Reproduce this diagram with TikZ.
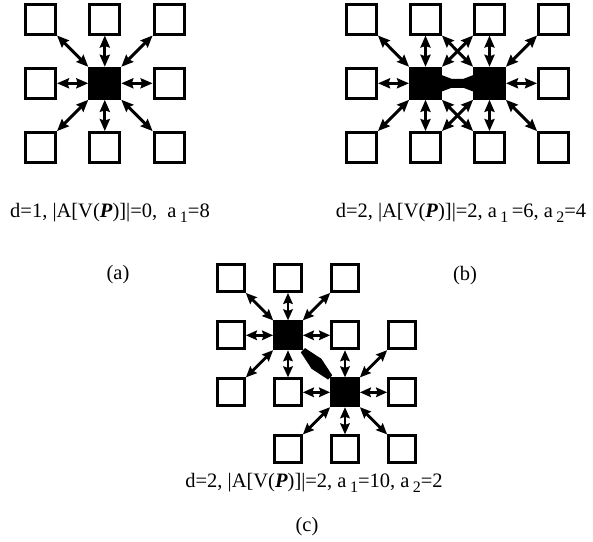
\documentclass[tikz,border=0pt]{standalone}
\usepackage{fontspec}
\setmainfont{Liberation Serif}
\usetikzlibrary{arrows.meta,calc}
\newcommand\lowsub[1]{\,\raisebox{-5pt}{\fontsize{16}{16}\selectfont #1}}
\begin{document}
\begin{tikzpicture}[x=1pt,y=-1pt,
  wbox/.style={draw=black,fill=white,line width=3pt,minimum size=30pt,inner sep=0pt},
  bbox/.style={wbox,fill=black},
  wboxs/.style={wbox,minimum size=27pt,line width=2.8pt},
  bboxs/.style={wboxs,fill=black},
  link/.style={line width=3pt,{Stealth[length=12pt,width=10pt,inset=1.5pt]}-{Stealth[length=12pt,width=10pt,inset=1.5pt]}},
  links/.style={line width=2.8pt,{Stealth[length=11pt,width=9.5pt,inset=1.5pt]}-{Stealth[length=11pt,width=9.5pt,inset=1.5pt]}},
  lbl/.style={font=\fontsize{20.5}{24}\selectfont,anchor=base,inner sep=0pt}
]
\useasboundingbox (0,0) rectangle (593,541);

% ---------- (a) ----------
\foreach \n/\x/\y/\s in {a11/40.5/19/wbox,a21/104.8/19/wbox,a31/169.1/19/wbox,
  a12/40.5/83.3/wbox,a22/104.8/83.3/bbox,a32/169.1/83.3/wbox,
  a13/40.5/147.6/wbox,a23/104.8/147.6/wbox,a33/169.1/147.6/wbox}
  {\node[\s] (\n) at (\x,\y) {};}
\foreach \t in {a11,a21,a31,a12,a32,a13,a23,a33}
  {\draw[link] (a22) -- (\t);}

% ---------- (b) ----------
\foreach \n/\x/\y/\s in {b11/361.5/19/wbox,b21/425.5/19/wbox,b31/489.5/19/wbox,b41/553.5/19/wbox,
  b12/361.5/83.3/wbox,b22/425.5/83.3/bbox,b32/489.5/83.3/bbox,b42/553.5/83.3/wbox,
  b13/361.5/147.6/wbox,b23/425.5/147.6/wbox,b33/489.5/147.6/wbox,b43/553.5/147.6/wbox}
  {\node[\s] (\n) at (\x,\y) {};}
\foreach \t in {b11,b21,b31,b12,b13,b23,b33}
  {\draw[link] (b22) -- (\t);}
\foreach \t in {b21,b31,b41,b42,b23,b33,b43}
  {\draw[link] (b32) -- (\t);}
\coordinate (bm) at ($(b22.east)!0.5!(b32.west)$);
\fill ($(b22.east)+(-1,-8.5)$) -- ($(bm)+(-6,-4.5)$) -- ($(bm)+(6,-4.5)$) -- ($(b32.west)+(1,-8.5)$)
  -- ($(b32.west)+(1,8.5)$) -- ($(bm)+(6,4.5)$) -- ($(bm)+(-6,4.5)$) -- ($(b22.east)+(-1,8.5)$) -- cycle;

% ---------- (c) ----------
\foreach \n/\x/\y/\s in {c11/231/278/wboxs,c21/288/278/wboxs,c31/345/278/wboxs,
  c12/231/335.3/wboxs,c22/288/335.3/bboxs,c32/345/335.3/wboxs,c42/402/335.3/wboxs,
  c13/231/392.3/wboxs,c23/288/392.3/wboxs,c33/345/392.3/bboxs,c43/402/392.3/wboxs,
  c24/288/449.3/wboxs,c34/345/449.3/wboxs,c44/402/449.3/wboxs}
  {\node[\s] (\n) at (\x,\y) {};}
\foreach \t in {c11,c21,c31,c12,c32,c13,c23}
  {\draw[links] (c22) -- (\t);}
\foreach \t in {c32,c42,c23,c43,c24,c34,c44}
  {\draw[links] (c33) -- (\t);}
\coordinate (cp) at (c22.south east);
\coordinate (cq) at (c33.north west);
\fill ($(cp)!3pt!90:(cq)$) -- ($(cp)!0.5!(cq)!7pt!90:(cq)$) -- ($(cq)!3pt!-90:(cp)$)
  -- ($(cq)!3pt!90:(cp)$) -- ($(cp)!0.5!(cq)!7pt!-90:(cq)$) -- ($(cp)!3pt!-90:(cq)$) -- cycle;

% ---------- labels ----------
\node[lbl] (ta) at (110,217) {d=1, |A[V(\textbf{\textit{P}})]|=0, \ a\lowsub{1}=8};
\node[lbl] (tb) at (461,217) {d=2, |A[V(\textbf{\textit{P}})]|=2, a\lowsub{1}\,=6, a\lowsub{2}=4};
\node[lbl] (tc) at (314,487) {d=2, |A[V(\textbf{\textit{P}})]|=2, a\lowsub{1}=10, a\lowsub{2}=2};
\node[lbl] (la) at (118,279) {(a)};
\node[lbl] (lb) at (465,280) {(b)};
\node[lbl] (lc) at (307,531) {(c)};
\end{tikzpicture}
\end{document}
